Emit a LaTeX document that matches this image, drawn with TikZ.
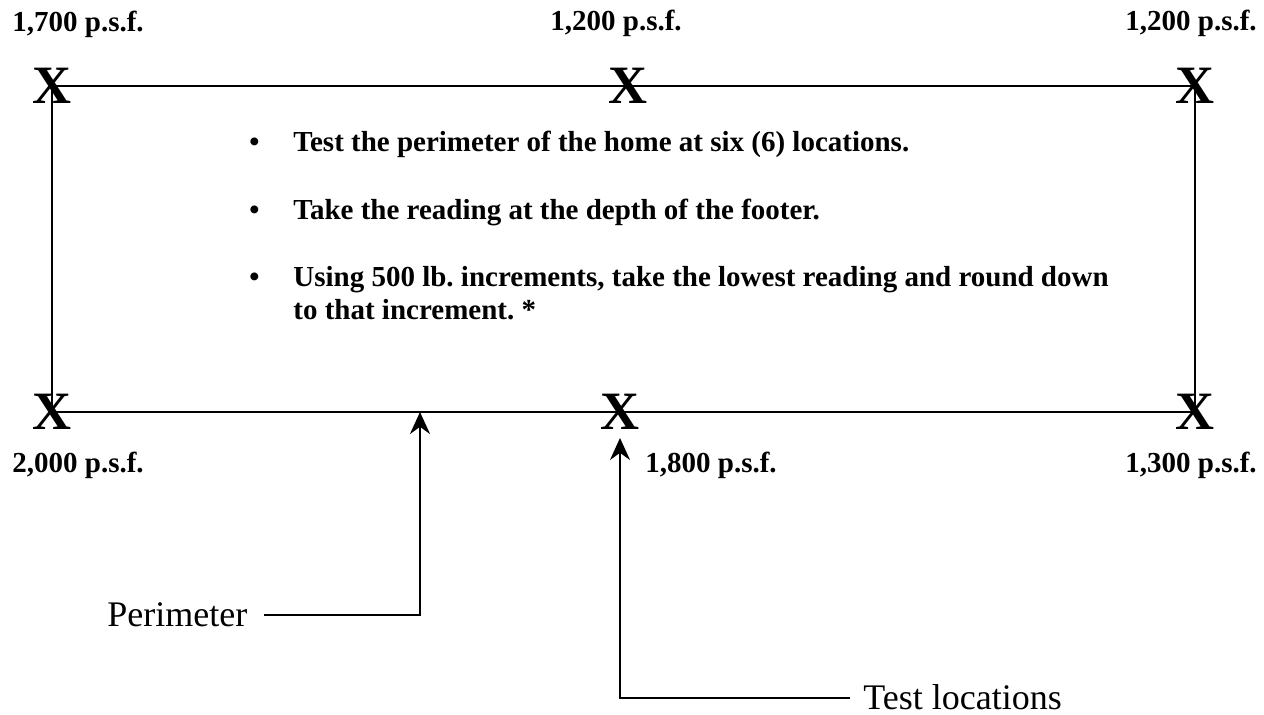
\documentclass[tikz,border=0pt]{standalone}
\usepackage{fontspec}
\setmainfont{Liberation Serif}
\usetikzlibrary{arrows.meta}
\frenchspacing

\begin{document}
\begin{tikzpicture}[x=0.5pt,y=-0.5pt,
    psf/.style={font=\fontsize{14.5}{17}\selectfont\bfseries,anchor=base west,inner sep=0pt},
    xmark/.style={font=\fontsize{27}{30}\selectfont\bfseries,inner sep=0pt},
    note/.style={font=\fontsize{14.5}{16.5}\selectfont\bfseries,anchor=base west,inner sep=0pt},
    callout/.style={font=\fontsize{18}{21}\selectfont,anchor=base west,inner sep=0pt},
    pointer/.style={-{Stealth[length=11pt,width=10pt]},line width=1pt}]

        \useasboundingbox (0,0) rectangle (1264,715);

        % test locations on the perimeter
        \node [xmark] (tl) at (52,86) {X};
        \node [xmark] (tm) at (628,86) {X};
        \node [xmark] (tr) at (1195,86) {X};
        \node [xmark] (bl) at (52,412) {X};
        \node [xmark] (bm) at (620,412) {X};
        \node [xmark] (br) at (1195,412) {X};

        \draw [line width=1pt] (tl.center) -- (tr.center) -- (br.center) -- (bl.center) -- cycle;

        \node [psf] (ltl) at (12,32) {1,700 p.s.f.};
        \node [psf] (ltm) at (550,31) {1,200 p.s.f.};
        \node [psf] (ltr) at (1125,31) {1,200 p.s.f.};
        \node [psf] (lbl) at (12,473) {2,000 p.s.f.};
        \node [psf] (lbm) at (645,473) {1,800 p.s.f.};
        \node [psf] (lbr) at (1125,473) {1,300 p.s.f.};

        % notes
        \node [note] (b1) at (249,152) {\textbullet};
        \node [note] (b2) at (249,220) {\textbullet};
        \node [note] (b3) at (249,287) {\textbullet};
        \node [note] (n1) at (293,152) {Test the perimeter of the home at six (6) locations.};
        \node [note] (n2) at (293,220) {Take the reading at the depth of the footer.};
        \node [note] (n3) at (293,287) {\begin{tabular}[t]{@{}l@{}}Using 500 lb. increments, take the lowest reading and round down\\to that increment. *\end{tabular}};

        % callouts
        \node [callout] (perim) at (107,627) {Perimeter};
        \node [callout] (testloc) at (863,710) {Test locations};

        \coordinate (ptip) at (420,412);
        \coordinate (ttip) at (620,438);

        \draw [pointer] ([xshift=8pt]perim.east) -| (ptip);
        \draw [pointer] ([xshift=-6.5pt]testloc.west) -| (ttip);
    \end{tikzpicture}
\end{document}
